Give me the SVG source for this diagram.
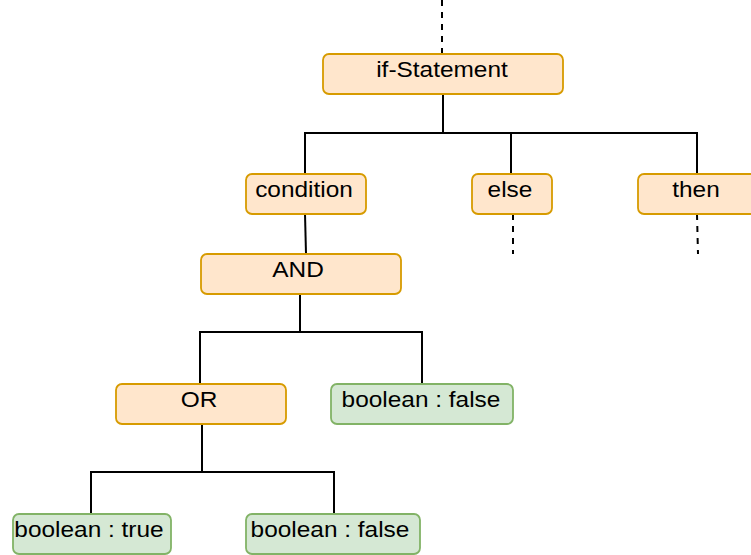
<svg xmlns="http://www.w3.org/2000/svg" width="751" height="555" viewBox="0 0 751 555">
  <style>
    .box { stroke-width: 1.8; }
    .ctl { fill: #ffe6cc; stroke: #d79b00; }
    .val { fill: #d5e8d4; stroke: #82b366; }
    .lbl { font-family: "Liberation Sans", Arial, sans-serif; font-size: 22px; fill: #000; text-anchor: middle; }
    .edge { fill: none; stroke: #000; stroke-width: 2; }
    .open { fill: none; stroke: #000; stroke-width: 2; stroke-dasharray: 6 6; }
  </style>
  <rect width="751" height="555" fill="#fff"/>

  <!-- tree edges -->
  <g id="connectors">
    <line class="open" x1="442" y1="0" x2="442" y2="54"/>
    <path class="edge" d="M443 94 V133 M305 174 V133 H697 V174 M511 133 V174"/>
    <line class="open" x1="513" y1="214" x2="513" y2="254"/>
    <line class="open" x1="697" y1="214" x2="698" y2="254"/>
    <line class="edge" x1="305" y1="214" x2="306" y2="254"/>
    <path class="edge" d="M300 294 V332 M200 384 V332 H422 V384"/>
    <path class="edge" d="M202 424 V472 M91 514 V472 H334 V514"/>
  </g>

  <!-- labels are set slightly wide: translate to the anchor, then stretch horizontally -->
  <g id="if-statement">
    <rect class="box ctl" x="323" y="54" width="240" height="40" rx="6"/>
    <text class="lbl" transform="translate(442 77) scale(1.11 1)">if-Statement</text>
  </g>
  <g id="condition">
    <rect class="box ctl" x="246" y="174" width="120" height="40" rx="6"/>
    <text class="lbl" transform="translate(304 197) scale(1.11 1)">condition</text>
  </g>
  <g id="else">
    <rect class="box ctl" x="472" y="174" width="80" height="40" rx="6"/>
    <text class="lbl" transform="translate(510 197) scale(1.11 1)">else</text>
  </g>
  <g id="then">
    <rect class="box ctl" x="638" y="174" width="120" height="40" rx="6"/>
    <text class="lbl" transform="translate(696 197) scale(1.11 1)">then</text>
  </g>
  <g id="and">
    <rect class="box ctl" x="201" y="254" width="200" height="40" rx="6"/>
    <text class="lbl" transform="translate(298 277) scale(1.11 1)">AND</text>
  </g>
  <g id="or">
    <rect class="box ctl" x="116" y="384" width="170" height="40" rx="6"/>
    <text class="lbl" transform="translate(199 407) scale(1.11 1)">OR</text>
  </g>
  <g id="bool-false-1">
    <rect class="box val" x="331" y="384" width="182" height="40" rx="6"/>
    <text class="lbl" transform="translate(421 407) scale(1.11 1)">boolean : false</text>
  </g>
  <g id="bool-true">
    <rect class="box val" x="13" y="514" width="158" height="40" rx="6"/>
    <text class="lbl" transform="translate(89 537) scale(1.11 1)">boolean : true</text>
  </g>
  <g id="bool-false-2">
    <rect class="box val" x="246" y="514" width="174" height="40" rx="6"/>
    <text class="lbl" transform="translate(330 537) scale(1.11 1)">boolean : false</text>
  </g>
</svg>
